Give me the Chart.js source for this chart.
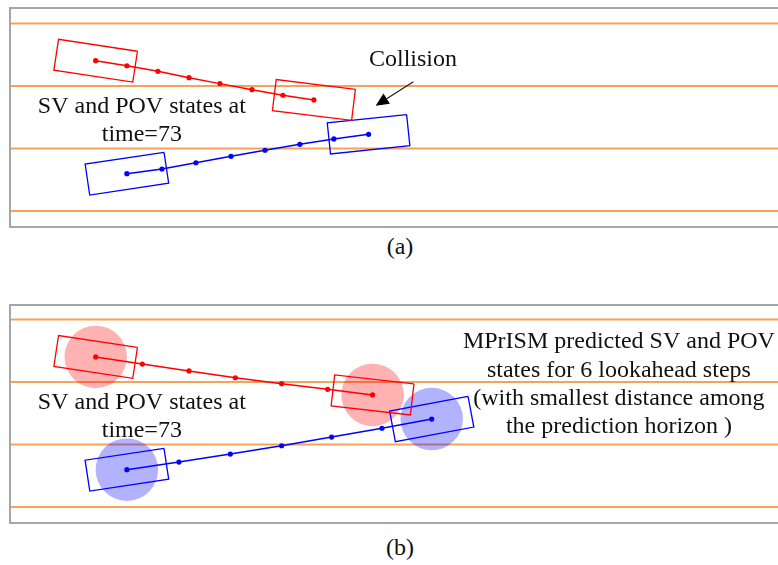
<!DOCTYPE html>
<html lang="en">
<head>
    <meta charset="UTF-8">
    <title>SV and POV states</title>
    <style>
        body {
            margin: 0;
            background: #fff;
            width: 778px;
            height: 565px;
            position: relative;
            overflow: hidden;
            font-family: "Liberation Serif", "Times New Roman", serif;
        }
        .panel {
            position: absolute;
            left: 9px;
            width: 769px;
            box-sizing: border-box;
            border: 2px solid #a6a6a6;
            border-right: none;
        }
        .panel canvas {
            display: block;
        }
        .caption {
            position: absolute;
            left: 0;
            width: 800px;
            text-align: center;
            font-size: 24px;
            line-height: 24px;
            color: #111;
        }
    </style>
</head>
<body>
    <div class="panel" style="top: 7px; height: 221px;">
        <canvas id="panelA" width="767" height="217"></canvas>
    </div>
    <div class="caption" style="top: 234px;">(a)</div>

    <div class="panel" style="top: 304px; height: 220px;">
        <canvas id="panelB" width="767" height="216"></canvas>
    </div>
    <div class="caption" style="top: 535px;">(b)</div>

    <script src="https://cdn.jsdelivr.net/npm/chart.js"></script>
    <script>
        // road coordinates in metres, x along the road, y across it
        const laneY = [0, 3.6, 7.2, 10.8];

        // (a) trajectories at time=73
        const redA_x = [4.94, 6.74, 8.53, 10.32, 12.10, 13.95, 15.73, 17.52];
        const redA_y = [8.66, 8.37, 8.05, 7.68, 7.34, 6.99, 6.67, 6.40];
        const blueA_x = [6.74, 8.76, 10.72, 12.74, 14.70, 16.71, 18.67, 20.67];
        const blueA_y = [2.15, 2.42, 2.78, 3.15, 3.50, 3.84, 4.15, 4.42];
        const redA_heading = [-8.6, -7.0];   // deg, first and last state
        const blueA_heading = [8.5, 6.0];

        // (b) MPrISM prediction, 6 lookahead steps
        const redB_x = [4.94, 7.63, 10.32, 12.99, 15.66, 18.31, 20.90];
        const redB_y = [8.65, 8.24, 7.84, 7.45, 7.11, 6.78, 6.46];
        const blueB_x = [6.74, 9.74, 12.70, 15.66, 18.54, 21.44, 24.31];
        const blueB_y = [2.15, 2.59, 3.05, 3.53, 4.03, 4.54, 5.07];
        const redB_heading = [-8.6, -6.5];
        const blueB_heading = [8.6, 10.6];

        const CAR_LENGTH = 4.6;
        const CAR_WIDTH = 1.8;
        const SAFE_RADIUS = 1.8;
        const X_MIN = 0.06;
        const X_MAX = 44.27;

        const RED = '#ff0000';
        const BLUE = '#0000ff';
        const LANE = '#f6a15c';
        const FONT = '24px "Liberation Serif", "Times New Roman", serif';

        function track(xs, ys) {
            return xs.map((x, i) => ({ x: x, y: ys[i] }));
        }

        function vehicleBox(xs, ys, i, headingDeg) {
            const a = headingDeg * Math.PI / 180;
            const c = Math.cos(a), s = Math.sin(a);
            const hl = CAR_LENGTH / 2, hw = CAR_WIDTH / 2;
            return [[1, 1], [1, -1], [-1, -1], [-1, 1], [1, 1]].map(([u, v]) => ({
                x: xs[i] + u * hl * c - v * hw * s,
                y: ys[i] + u * hl * s + v * hw * c
            }));
        }

        function safeRadius(ctx) {
            const sx = ctx.chart.scales.x;
            return sx.getPixelForValue(SAFE_RADIUS) - sx.getPixelForValue(0);
        }

        // draws the text notes and the arrow in road coordinates
        const notesPlugin = {
            id: 'notes',
            afterDatasetsDraw(chart, args, opts) {
                const ctx = chart.ctx;
                const sx = chart.scales.x, sy = chart.scales.y;
                ctx.save();
                ctx.fillStyle = '#111';
                ctx.font = FONT;
                ctx.textAlign = 'center';
                ctx.textBaseline = 'alphabetic';
                (opts.texts || []).forEach(t => {
                    t.lines.forEach((line, k) => {
                        ctx.fillText(line, sx.getPixelForValue(t.x), sy.getPixelForValue(t.y[k]));
                    });
                });
                (opts.arrows || []).forEach(a => {
                    const x0 = sx.getPixelForValue(a.from[0]), y0 = sy.getPixelForValue(a.from[1]);
                    const x1 = sx.getPixelForValue(a.to[0]), y1 = sy.getPixelForValue(a.to[1]);
                    const ang = Math.atan2(y1 - y0, x1 - x0);
                    const head = 13, half = 6;
                    const bx = x1 - head * Math.cos(ang), by = y1 - head * Math.sin(ang);
                    ctx.strokeStyle = '#222';
                    ctx.lineWidth = 1.3;
                    ctx.beginPath();
                    ctx.moveTo(x0, y0);
                    ctx.lineTo(bx, by);
                    ctx.stroke();
                    ctx.fillStyle = '#000';
                    ctx.beginPath();
                    ctx.moveTo(x1, y1);
                    ctx.lineTo(bx + half * Math.sin(ang), by - half * Math.cos(ang));
                    ctx.lineTo(bx - half * Math.sin(ang), by + half * Math.cos(ang));
                    ctx.closePath();
                    ctx.fill();
                });
                ctx.restore();
            }
        };

        function laneSets() {
            return laneY.map(y => ({
                data: [{ x: X_MIN, y: y }, { x: X_MAX, y: y }],
                showLine: true,
                borderColor: LANE,
                borderWidth: 2,
                pointRadius: 0,
                order: 5
            }));
        }

        function boxSet(points, color) {
            return {
                data: points,
                showLine: true,
                borderColor: color,
                borderWidth: 1.3,
                pointRadius: 0,
                fill: false,
                order: 3
            };
        }

        function trackSet(xs, ys, color) {
            return {
                data: track(xs, ys),
                showLine: true,
                borderColor: color,
                borderWidth: 1.5,
                pointRadius: 2.6,
                pointBackgroundColor: color,
                pointBorderWidth: 0,
                order: 2
            };
        }

        function circleSet(xs, ys, fill) {
            const last = xs.length - 1;
            return {
                data: [{ x: xs[0], y: ys[0] }, { x: xs[last], y: ys[last] }],
                showLine: false,
                pointRadius: safeRadius,
                pointBackgroundColor: fill,
                pointBorderWidth: 0,
                order: 4
            };
        }

        function makePanel(id, yMin, yMax, datasets, notes) {
            const ctx = document.getElementById(id).getContext('2d');
            return new Chart(ctx, {
                type: 'scatter',
                data: { datasets: datasets },
                options: {
                    responsive: false,
                    animation: false,
                    devicePixelRatio: 1,
                    events: [],
                    layout: { padding: 0, autoPadding: false },
                    scales: {
                        x: { type: 'linear', display: false, min: X_MIN, max: X_MAX },
                        y: { type: 'linear', display: false, min: yMin, max: yMax }
                    },
                    plugins: {
                        legend: { display: false },
                        tooltip: { enabled: false },
                        notes: notes
                    }
                },
                plugins: [notesPlugin]
            });
        }

        const svText = { x: 7.6, y: [5.64, 4.05], lines: ['SV and POV states at', 'time=73'] };

        makePanel('panelA', -0.865, 11.64,
            laneSets().concat([
                boxSet(vehicleBox(redA_x, redA_y, 0, redA_heading[0]), RED),
                boxSet(vehicleBox(redA_x, redA_y, redA_x.length - 1, redA_heading[1]), RED),
                boxSet(vehicleBox(blueA_x, blueA_y, 0, blueA_heading[0]), BLUE),
                boxSet(vehicleBox(blueA_x, blueA_y, blueA_x.length - 1, blueA_heading[1]), BLUE),
                trackSet(redA_x, redA_y, RED),
                trackSet(blueA_x, blueA_y, BLUE)
            ]),
            {
                texts: [svText, { x: 23.23, y: [8.36], lines: ['Collision'] }],
                arrows: [{ from: [23.25, 7.45], to: [21.08, 6.07] }]
            });

        makePanel('panelB', -0.865, 11.585,
            laneSets().concat([
                circleSet(redB_x, redB_y, 'rgba(255, 0, 0, 0.3)'),
                circleSet(blueB_x, blueB_y, 'rgba(0, 0, 255, 0.3)'),
                boxSet(vehicleBox(redB_x, redB_y, 0, redB_heading[0]), RED),
                boxSet(vehicleBox(redB_x, redB_y, redB_x.length - 1, redB_heading[1]), RED),
                boxSet(vehicleBox(blueB_x, blueB_y, 0, blueB_heading[0]), BLUE),
                boxSet(vehicleBox(blueB_x, blueB_y, blueB_x.length - 1, blueB_heading[1]), BLUE),
                trackSet(redB_x, redB_y, RED),
                trackSet(blueB_x, blueB_y, BLUE)
            ]),
            {
                texts: [
                    svText,
                    {
                        x: 35.1,
                        y: [9.16, 7.49, 5.88, 4.27],
                        lines: ['MPrISM predicted SV and POV', 'states for 6 lookahead steps',
                                '(with smallest distance among', 'the prediction horizon )']
                    }
                ]
            });
    </script>
</body>
</html>
